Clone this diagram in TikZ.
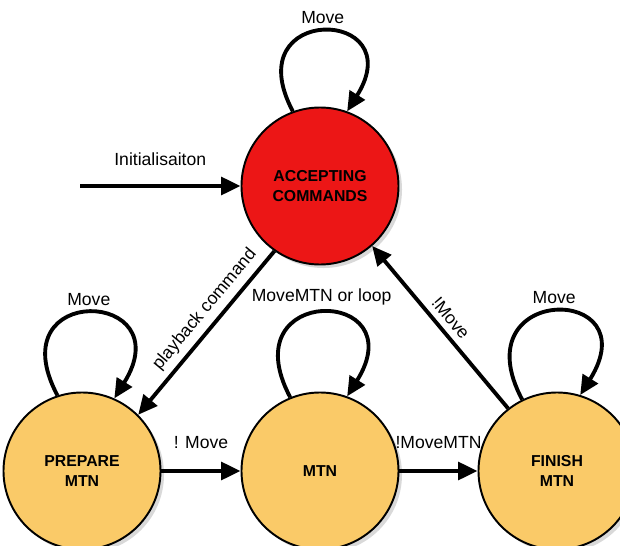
\documentclass[tikz,border=0pt]{standalone}
\usepackage{fontspec}
\setmainfont{Liberation Sans}
\usetikzlibrary{arrows.meta,shadows}
\definecolor{accred}{RGB}{236,22,22}
\definecolor{mtnorange}{RGB}{250,202,104}

\begin{document}
\begin{tikzpicture}[
  state/.style={circle,draw,line width=1.1pt,minimum size=3.14cm,inner sep=0pt,align=center,
    font=\fontsize{9}{11}\selectfont\bfseries,
    drop shadow={shadow xshift=2pt,shadow yshift=-2pt,opacity=.3}},
  trans/.style={line width=2.2pt,-{Triangle[length=11pt,width=10pt]}},
  lbl/.style={font=\fontsize{10}{12}\selectfont}]
  \useasboundingbox (0,0) rectangle (12.4,10.9);
  % states
  \node[state,fill=accred] (acc) at (6.4,7.18) {ACCEPTING\\COMMANDS};
  \node[state,fill=mtnorange] (prep) at (1.64,1.48) {PREPARE\\MTN};
  \node[state,fill=mtnorange] (mtn) at (6.4,1.48) {MTN};
  \node[state,fill=mtnorange] (fin) at (11.14,1.48) {FINISH\\MTN};
  \coordinate (init) at (1.6,7.18);
  % transitions
  \draw[trans] (init) -- node[lbl,above=7pt] {Initialisaiton} (acc);
  \draw[trans] (acc.110) to[out=118,in=58,looseness=5.8] node[lbl,above] {Move} (acc.70);
  \draw[trans] (prep.108) to[out=118,in=58,looseness=5.8] node[lbl,above] {Move} (prep.66);
  \draw[trans] (mtn.112) to[out=118,in=58,looseness=5.8] node[lbl,above] {MoveMTN or loop} (mtn.70);
  \draw[trans] (fin.116) to[out=118,in=58,looseness=5.8] node[lbl,above] {Move} (fin.73);
  \draw[trans] (acc.235) -- node[lbl,sloped,above,pos=.42] {playback command} (prep.45);
  \draw[trans] (fin.128) -- node[lbl,sloped,above,pos=.5] {!Move} (acc.-49);
  \draw[trans] (prep) -- node[lbl,above=8pt] {! Move} (mtn);
  \draw[trans] (mtn) -- node[lbl,above=8pt] {!MoveMTN} (fin);
\end{tikzpicture}
\end{document}
